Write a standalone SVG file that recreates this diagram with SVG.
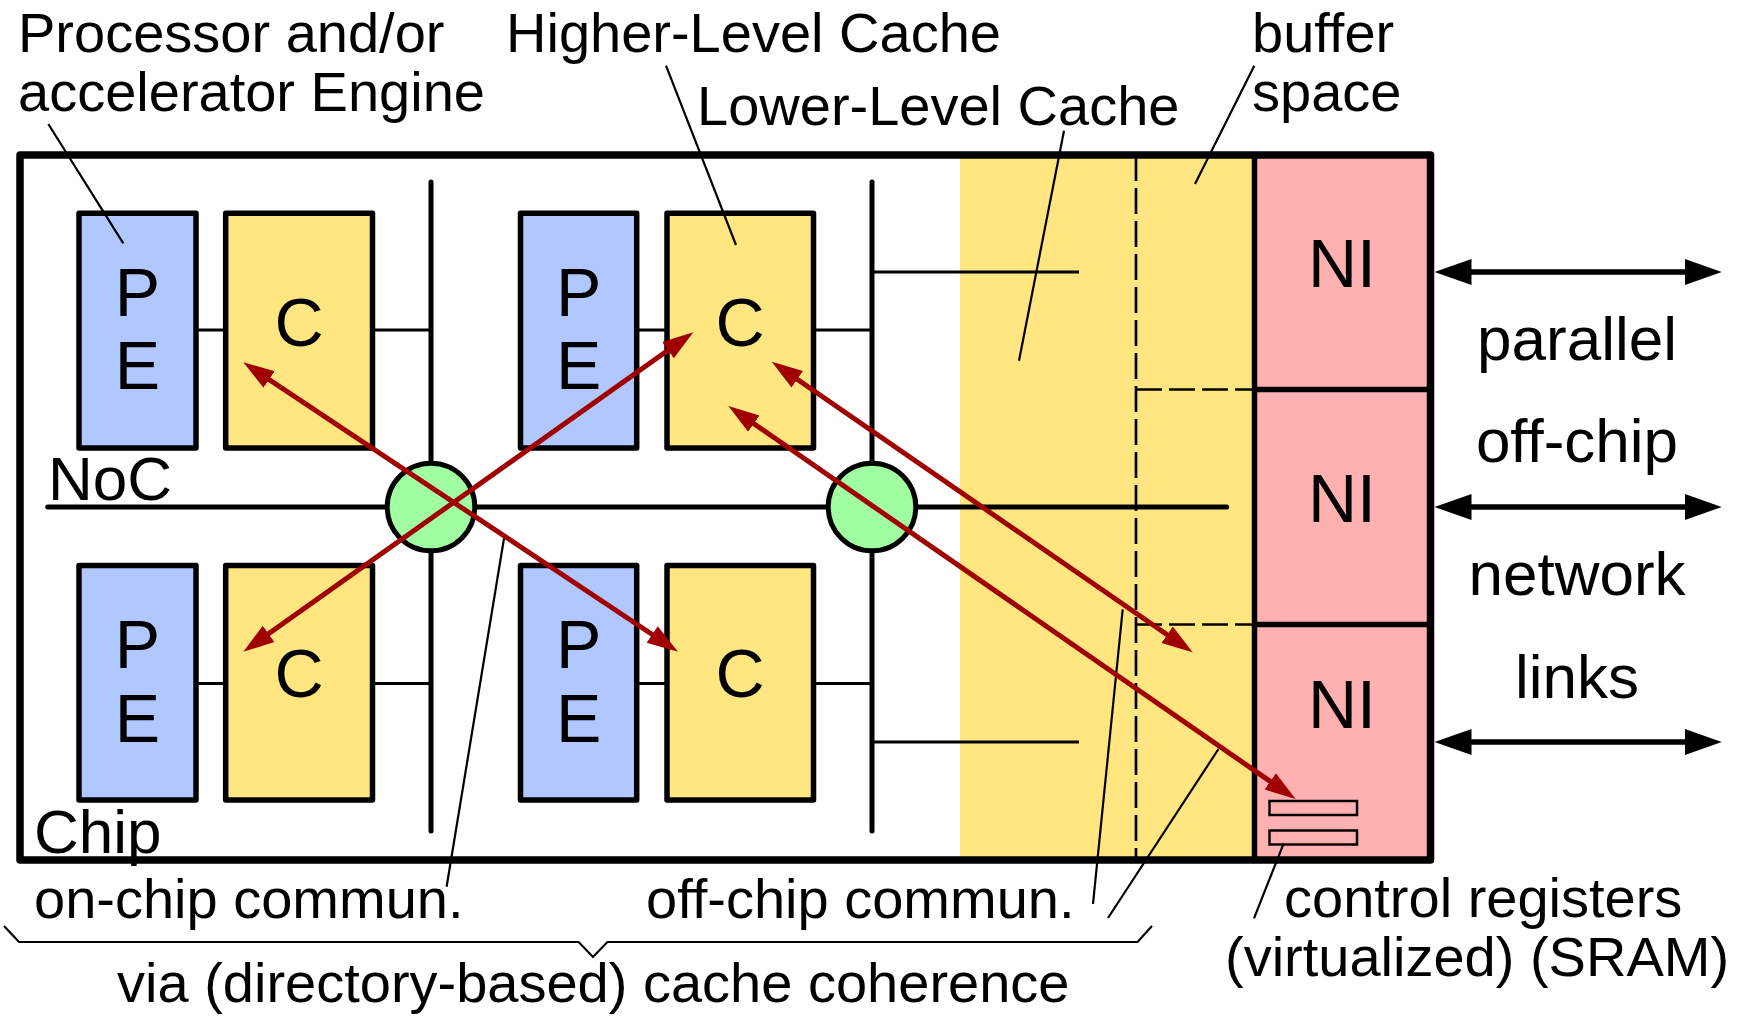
<svg xmlns="http://www.w3.org/2000/svg" width="1737" height="1016" viewBox="0 0 1737 1016">
<style>
text{font-family:"Liberation Sans",Arial,sans-serif;fill:#000}
.lbl{font-size:56px}
.big{font-size:62px}
.box{font-size:68px;text-anchor:middle}
.mid{text-anchor:middle}
.pe{fill:#b0c8ff;stroke:#000;stroke-width:5.5;stroke-linejoin:round}
.c{fill:#ffe680;stroke:#000;stroke-width:5.5;stroke-linejoin:round}
.bus{stroke:#000;stroke-width:5;stroke-linecap:round;fill:none}
.link{stroke:#000;stroke-width:3;fill:none}
.lead{stroke:#000;stroke-width:2.2;fill:none}
.dash{stroke:#000;stroke-width:2.7;fill:none;stroke-dasharray:26 7}
.red{stroke:#a00000;stroke-width:5;fill:none;marker-start:url(#rh);marker-end:url(#rh)}
.blk{stroke:#000;stroke-width:5.5;fill:none;marker-start:url(#bh);marker-end:url(#bh)}
.router{fill:#a0ffa0;stroke:#000;stroke-width:5}
</style>
<defs>
<marker id="rh" markerUnits="userSpaceOnUse" viewBox="0 -11 32 22" markerWidth="32" markerHeight="22" refX="19" refY="0" orient="auto-start-reverse"><path d="M0,-10 L31,0 L0,10 z" fill="#a00000"/></marker>
<marker id="bh" markerUnits="userSpaceOnUse" viewBox="0 -14 38 28" markerWidth="38" markerHeight="28" refX="23" refY="0" orient="auto-start-reverse"><path d="M0,-13 L37,0 L0,13 z" fill="#000"/></marker>
</defs>
<rect width="1737" height="1016" fill="#fff"/>

<g id="chip">
<rect x="960" y="155" width="294" height="705" fill="#ffe680"/>
<rect x="1254" y="155" width="176.5" height="705" fill="#ffb0b0"/>
<line x1="1136" y1="155" x2="1136" y2="860" class="dash"/>
<line x1="1136" y1="389.5" x2="1254" y2="389.5" class="dash"/>
<line x1="1136" y1="624.5" x2="1254" y2="624.5" class="dash"/>
<line x1="1254.5" y1="155" x2="1254.5" y2="860" stroke="#000" stroke-width="5.5"/>
<line x1="1254" y1="389.5" x2="1430" y2="389.5" stroke="#000" stroke-width="5.5"/>
<line x1="1254" y1="624.5" x2="1430" y2="624.5" stroke="#000" stroke-width="5.5"/>
<rect x="20" y="155" width="1410.5" height="705" fill="none" stroke="#000" stroke-width="7.5" stroke-linejoin="round"/>
<text x="48" y="500" class="big">NoC</text>
<text x="34" y="852.5" class="big">Chip</text>
</g>

<g id="connectors">
<line x1="47.7" y1="507" x2="1226.7" y2="507" class="bus"/>
<line x1="431" y1="182" x2="431" y2="831" class="bus"/>
<line x1="872" y1="182" x2="872" y2="831" class="bus"/>
<line x1="196" y1="330" x2="226" y2="330" class="link"/>
<line x1="372" y1="330" x2="431" y2="330" class="link"/>
<line x1="196" y1="683.5" x2="226" y2="683.5" class="link"/>
<line x1="372" y1="683.5" x2="431" y2="683.5" class="link"/>
<line x1="636.7" y1="330" x2="667" y2="330" class="link"/>
<line x1="813.5" y1="330" x2="872" y2="330" class="link"/>
<line x1="636.7" y1="683.5" x2="667" y2="683.5" class="link"/>
<line x1="813.5" y1="683.5" x2="872" y2="683.5" class="link"/>
<line x1="872" y1="272" x2="1079" y2="272" class="link"/>
<line x1="872" y1="742" x2="1079" y2="742" class="link"/>
<line x1="1448.5" y1="272" x2="1707.7" y2="272" class="blk"/>
<line x1="1448.5" y1="507" x2="1707.7" y2="507" class="blk"/>
<line x1="1448.5" y1="742" x2="1707.7" y2="742" class="blk"/>
</g>

<g id="pe1"><rect x="79" y="213.3" width="117" height="234.7" class="pe"/><text x="137.5" y="316" class="box">P</text><text x="137.5" y="389" class="box">E</text></g>
<g id="c1"><rect x="225.7" y="213.3" width="146.8" height="234.7" class="c"/><text x="299" y="345.5" class="box">C</text></g>
<g id="pe2"><rect x="520.5" y="213.3" width="116.2" height="234.7" class="pe"/><text x="578.6" y="316" class="box">P</text><text x="578.6" y="389" class="box">E</text></g>
<g id="c2"><rect x="667" y="213.3" width="146.5" height="234.7" class="c"/><text x="740" y="345.5" class="box">C</text></g>
<g id="pe3"><rect x="79" y="565.5" width="117" height="234.5" class="pe"/><text x="137.5" y="668.3" class="box">P</text><text x="137.5" y="741.5" class="box">E</text></g>
<g id="c3"><rect x="225.7" y="565.5" width="146.8" height="234.5" class="c"/><text x="299" y="697" class="box">C</text></g>
<g id="pe4"><rect x="520.5" y="565.5" width="116.2" height="234.5" class="pe"/><text x="578.6" y="668.3" class="box">P</text><text x="578.6" y="741.5" class="box">E</text></g>
<g id="c4"><rect x="667" y="565.5" width="146.5" height="234.5" class="c"/><text x="740" y="697" class="box">C</text></g>

<g id="router1"><circle cx="431" cy="507" r="43.8" class="router"/></g>
<g id="router2"><circle cx="872" cy="507" r="43.8" class="router"/></g>

<g id="ni1"><text x="1342" y="286.5" class="box">NI</text></g>
<g id="ni2"><text x="1342" y="521.7" class="box">NI</text></g>
<g id="ni3"><text x="1342" y="728" class="box">NI</text></g>

<g id="registers">
<rect x="1269.5" y="801" width="87.5" height="14" fill="#ffb0b0" stroke="#000" stroke-width="2.5"/>
<rect x="1269.5" y="830.5" width="87.5" height="14" fill="#ffb0b0" stroke="#000" stroke-width="2.5"/>
</g>

<g id="labels">
<text x="18" y="52" class="lbl">Processor and/or</text>
<text x="18" y="110.5" class="lbl">accelerator Engine</text>
<text x="506" y="52" class="lbl">Higher-Level Cache</text>
<text x="697" y="125" class="lbl">Lower-Level Cache</text>
<text x="1252" y="52" class="lbl">buffer</text>
<text x="1252" y="110.5" class="lbl">space</text>
<text x="34" y="918" class="lbl">on-chip commun.</text>
<text x="646" y="918" class="lbl">off-chip commun.</text>
<text x="1284" y="917" class="lbl">control registers</text>
<text x="1225" y="976" class="lbl">(virtualized) (SRAM)</text>
<text x="117" y="1002" class="lbl">via (directory-based) cache coherence</text>
<text x="1577" y="360" class="big mid">parallel</text>
<text x="1577" y="462" class="big mid">off-chip</text>
<text x="1577" y="595" class="big mid">network</text>
<text x="1577" y="698" class="big mid">links</text>
</g>

<g id="leaders">
<line x1="48.3" y1="124" x2="123.3" y2="243.3" class="lead"/>
<line x1="666" y1="65.7" x2="736" y2="245" class="lead"/>
<line x1="1064" y1="130.7" x2="1019" y2="360.7" class="lead"/>
<line x1="1254.3" y1="65.7" x2="1195" y2="184" class="lead"/>
<line x1="504" y1="538.5" x2="446.6" y2="886.8" class="lead"/>
<line x1="1122.7" y1="609.3" x2="1093" y2="904" class="lead"/>
<line x1="1218.5" y1="749" x2="1108" y2="918" class="lead"/>
<line x1="1283.3" y1="844.3" x2="1254" y2="918.3" class="lead"/>
<polyline points="4,926 19,942 578.6,942 593,957 607.4,942 1137.6,942 1152,926" class="lead" stroke-linejoin="miter"/>
</g>

<g id="coherence">
<line x1="253.3" y1="369" x2="668" y2="645" class="red"/>
<line x1="253.1" y1="644.8" x2="683.5" y2="339.2" class="red"/>
<line x1="781.6" y1="368.5" x2="1182.8" y2="645.5" class="red"/>
<line x1="738.2" y1="412.8" x2="1285.8" y2="792.2" class="red"/>
</g>
</svg>
